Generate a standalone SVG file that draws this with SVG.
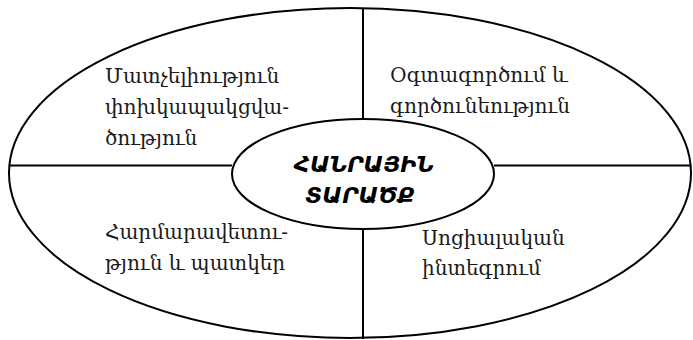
<svg xmlns="http://www.w3.org/2000/svg" width="693" height="340" viewBox="0 0 693 340">
<style>
.ln{stroke:#000;stroke-width:2;fill:none}
.t{font-family:"DejaVu Serif","Noto Sans","DejaVu Sans",serif;font-size:20px;fill:#1a1a1a}
.c{font-family:"DejaVu Sans","Noto Sans",sans-serif;font-size:22px;font-style:italic;font-weight:bold;fill:#000;text-anchor:middle}
</style>
<rect width="693" height="340" fill="#fff"/>
<g id="outer"><ellipse class="ln" cx="350" cy="173" rx="341" ry="165"/></g>
<g id="connectors">
<line class="ln" x1="363" y1="8" x2="363" y2="119"/>
<line class="ln" x1="363" y1="229" x2="363" y2="339"/>
<line class="ln" x1="9" y1="165.5" x2="232" y2="165.5"/>
<line class="ln" x1="494" y1="165.5" x2="691" y2="165.5"/>
</g>
<g id="center">
<ellipse class="ln" cx="363" cy="174" rx="131" ry="55"/>
<text class="c" x="364" y="172">ՀԱՆՐԱՅԻՆ</text>
<text class="c" x="360" y="203">ՏԱՐԱԾՔ</text>
</g>
<g id="q1"><text class="t" x="105" y="83">Մատչելիություն</text><text class="t" x="105" y="114">փոխկապակցվա-</text><text class="t" x="105" y="145">ծություն</text></g>
<g id="q2"><text class="t" x="390" y="82">Օգտագործում և</text><text class="t" x="390" y="113">գործունեություն</text></g>
<g id="q3"><text class="t" x="105" y="239">Հարմարավետու-</text><text class="t" x="105" y="270">թյուն և պատկեր</text></g>
<g id="q4"><text class="t" x="422" y="245">Սոցիալական</text><text class="t" x="422" y="275">ինտեգրում</text></g>
</svg>
